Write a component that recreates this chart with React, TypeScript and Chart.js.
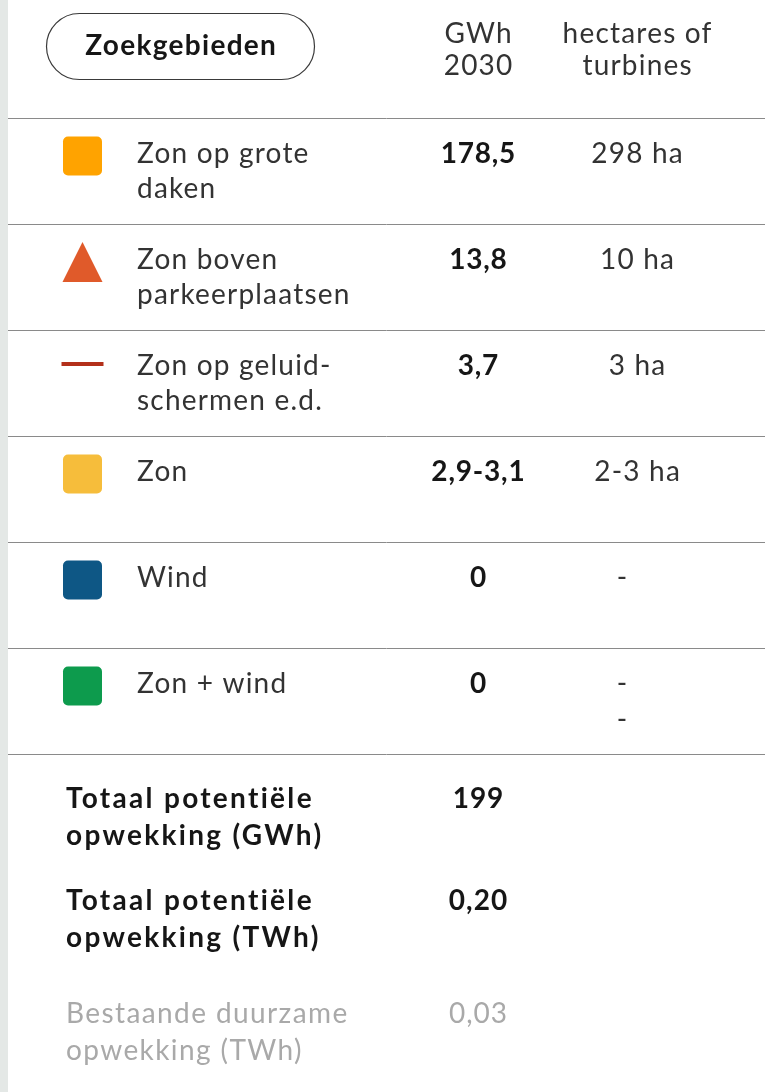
import React, { useEffect, useRef } from 'react';
import { Chart, registerables } from 'chart.js';

Chart.register(...registerables);

// ---------- data ----------
const buttonLabel = 'Zoekgebieden';
const columnHeaders: string[][] = [['GWh', '2030'], ['hectares of', 'turbines']];
const categories = [
  'Zon op grote daken',
  'Zon boven parkeerplaatsen',
  'Zon op geluidschermen e.d.',
  'Zon',
  'Wind',
  'Zon + wind',
];
const categoryLines: string[][] = [
  ['Zon op grote', 'daken'],
  ['Zon boven', 'parkeerplaatsen'],
  ['Zon op geluid-', 'schermen e.d.'],
  ['Zon'],
  ['Wind'],
  ['Zon + wind'],
];
const gwh2030 = ['178,5', '13,8', '3,7', '2,9-3,1', '0', '0'];
const hectares: string[][] = [['298 ha'], ['10 ha'], ['3 ha'], ['2-3 ha'], ['-'], ['-', '-']];
const totalLabels: string[][] = [
  ['Totaal potentiële', 'opwekking (GWh)'],
  ['Totaal potentiële', 'opwekking (TWh)'],
  ['Bestaande duurzame', 'opwekking (TWh)'],
];
const totalValues = ['199', '0,20', '0,03'];

// ---------- styles ----------
const markerShapes = ['square', 'triangle', 'line', 'square', 'square', 'square'];
const markerColors = ['#ffa300', '#e05a2a', '#b3301a', '#f6bd3b', '#0e5785', '#0d9b4d'];
const FONT = 'Lato, "Noto Sans", sans-serif';
const TEXT = '#333333';
const BOLD_TEXT = '#161616';
const MUTED = '#a9a9a9';
const ICON_X = 74.5; // x value on the hidden linear axis (icon column)

function makeIcon(shape: string, color: string): HTMLCanvasElement {
  const W = 45;
  const H = 46 + 30;
  const c = document.createElement('canvas');
  c.width = W;
  c.height = H;
  const ctx = c.getContext('2d')!;
  const cx = W / 2;
  const cy = 23;
  ctx.fillStyle = color;
  if (shape === 'square') {
    ctx.beginPath();
    (ctx as any).roundRect(cx - 19.5, cy - 19.5, 39, 39, 5);
    ctx.fill();
  } else if (shape === 'triangle') {
    ctx.beginPath();
    ctx.moveTo(cx, cy - 20);
    ctx.lineTo(cx + 20, cy + 20);
    ctx.lineTo(cx - 20, cy + 20);
    ctx.closePath();
    ctx.fill();
  } else {
    ctx.fillRect(cx - 21, cy - 6, 42, 4);
  }
  return c;
}

function txt(
  ctx: CanvasRenderingContext2D,
  s: string,
  x: number,
  y: number,
  font: string,
  color: string,
  align: CanvasTextAlign = 'left',
  spacing = '0px'
) {
  ctx.font = font;
  ctx.fillStyle = color;
  ctx.textAlign = align;
  ctx.textBaseline = 'alphabetic';
  (ctx as any).letterSpacing = spacing;
  // centre alignment with letter spacing: compensate trailing spacing
  let dx = 0;
  if (align === 'center') dx = parseFloat(spacing) / 2;
  ctx.fillText(s, x + dx, y);
}

const tablePlugin = {
  id: 'tableText',
  beforeDraw(chart: any) {
    const { ctx, width, height } = chart;
    ctx.save();
    ctx.fillStyle = '#e4e8e6';
    ctx.fillRect(0, 0, width, height);
    ctx.fillStyle = '#ffffff';
    ctx.fillRect(8, 0, width - 8, height);
    ctx.restore();
  },
  afterDraw(chart: any) {
    const { ctx, chartArea } = chart;
    const yScale = chart.scales.y;
    const REG = `28px ${FONT}`;
    const BOLD = `bold 28px ${FONT}`;
    const NAME_X = 137;
    const GWH_X = 478;
    const HA_X = 637;
    ctx.save();

    // header button
    ctx.beginPath();
    ctx.roundRect(46.5, 13.5, 268, 66, 33);
    ctx.strokeStyle = '#3a3a3a';
    ctx.lineWidth = 1.2;
    ctx.stroke();
    txt(ctx, buttonLabel, 180.5, 55, BOLD, BOLD_TEXT, 'center', '1.3px');

    // column headers
    const headerX = [GWH_X, HA_X];
    columnHeaders.forEach((lines, c) => {
      lines.forEach((l, k) => txt(ctx, l, headerX[c], 43 + k * 32, REG, TEXT, 'center', '1.2px'));
    });

    // rows
    categories.forEach((_, i) => {
      const cy = yScale.getPixelForValue(i);
      categoryLines[i].forEach((l, k) => txt(ctx, l, NAME_X, cy - 8 + k * 35, REG, TEXT, 'left', '1.2px'));
      txt(ctx, gwh2030[i], GWH_X, cy - 8, BOLD, BOLD_TEXT, 'center', '0.8px');
      hectares[i].forEach((l, k) => {
        const x = l === '-' ? HA_X - 15 : HA_X;
        txt(ctx, l, x, cy - 8 + k * 36, REG, TEXT, 'center', '1.2px');
      });
    });

    // totals
    const base = chartArea.bottom;
    const offsets = [54, 156, 269];
    totalLabels.forEach((lines, t) => {
      const muted = t === 2;
      const font = muted ? REG : BOLD;
      const color = muted ? MUTED : BOLD_TEXT;
      const sp = muted ? '1.4px' : '2.3px';
      lines.forEach((l, k) => txt(ctx, l, 66, base + offsets[t] + k * 37, font, color, 'left', sp));
      txt(ctx, totalValues[t], GWH_X, base + offsets[t], font, color, 'center', '1px');
    });
    ctx.restore();
  },
};

export default function App() {
  const ref = useRef<HTMLCanvasElement>(null);
  useEffect(() => {
    document.body.style.margin = '0';
    const icons = markerShapes.map((s, i) => makeIcon(s, markerColors[i]));
    const chart = new Chart(ref.current!, {
      type: 'scatter',
      data: {
        datasets: [
          {
            data: categories.map((c) => ({ x: ICON_X, y: c })) as any,
            pointStyle: icons as any,
            pointRadius: 20,
            pointHoverRadius: 20,
            clip: false,
          },
        ],
      },
      options: {
        animation: false,
        responsive: false,
        devicePixelRatio: 1,
        events: [],
        layout: { autoPadding: false, padding: { top: 118, bottom: 338, left: 8, right: 0 } },
        plugins: { legend: { display: false }, tooltip: { enabled: false } },
        scales: {
          x: { type: 'linear', min: 0, max: 757, display: false },
          y: {
            type: 'category',
            labels: categories,
            offset: true,
            grid: { offset: true, color: '#8a8a8a', lineWidth: 1, drawTicks: false },
            ticks: { display: false },
            border: { display: false },
          },
        },
      } as any,
      plugins: [tablePlugin],
    });
    return () => chart.destroy();
  }, []);
  return (
    <div style={{ width: 765, height: 1092 }}>
      <canvas ref={ref} width={765} height={1092} />
    </div>
  );
}
